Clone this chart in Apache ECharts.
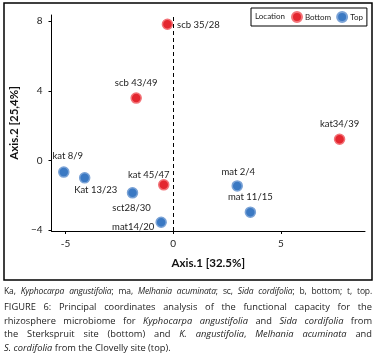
<!DOCTYPE html>
<html>
<head>
<meta charset="utf-8">
<script src="https://cdn.jsdelivr.net/npm/echarts@6/dist/echarts.min.js"></script>
<style>
html,body{margin:0;padding:0;background:#fff;}
#wrap{position:relative;width:382px;height:354px;overflow:hidden;}
#chart{position:absolute;left:0;top:0;width:382px;height:354px;}
.cap{position:absolute;left:4px;width:368px;font-family:"Open Sans",sans-serif;color:#222;}
#note{top:286px;font-size:8.5px;line-height:10px;white-space:nowrap;text-align:justify;text-align-last:justify;letter-spacing:-0.15px;}
#fig{top:300px;font-size:9.3px;line-height:13.6px;text-align:justify;}
#fig .l{display:block;text-align:justify;text-align-last:justify;}
#fig .last{display:block;}
</style>
</head>
<body>
<div id="wrap">
<div id="chart"></div>
<div class="cap" id="note">Ka, <i>Kyphocarpa angustifolia</i>; ma, <i>Melhania acuminata</i>; sc, <i>Sida cordifolia</i>; b, bottom; t, top.</div>
<div class="cap" id="fig"><span class="l">FIGURE 6: Principal coordinates analysis of the functional capacity for the</span><span class="l">rhizosphere microbiome for <i>Kyphocarpa angustifolia</i> and <i>Sida cordifolia</i> from</span><span class="l">the Sterkspruit site (bottom) and <i>K. angustifolia</i>, <i>Melhania acuminata</i> and</span><span class="last"><i>S. cordifolia</i> from the Clovelly site (top).</span></div>
</div>
<script>
// Data
const bottomNames = ["scb 35/28", "scb 43/49", "kat 45/47", "kat34/39"];
const bottomX = [-0.27, -1.72, -0.44, 7.72];
const bottomY = [7.82, 3.58, -1.40, 1.22];
const topNames = ["kat 8/9", "Kat 13/23", "sct28/30", "mat14/20", "mat 2/4", "mat 11/15"];
const topX = [-5.08, -4.11, -1.89, -0.56, 2.97, 3.58];
const topY = [-0.67, -1.00, -1.86, -3.55, -1.46, -2.97];
const xTicks = [-5, 0, 5];
const yTicks = [-4, 0, 4, 8];

// label layout offsets (px, relative to point centre)
const labelOffset = {
  "scb 35/28": [31, 1], "scb 43/49": [0, -15], "kat 45/47": [-15, -10], "kat34/39": [0, -15],
  "kat 8/9": [4, -16], "Kat 13/23": [11, 12], "sct28/30": [-1, 15], "mat14/20": [-28, 5],
  "mat 2/4": [1, -14], "mat 11/15": [0, -15]
};

function build(names, xs, ys) {
  return names.map((n, i) => ({
    name: n, value: [xs[i], ys[i]],
    label: { offset: labelOffset[n] }
  }));
}

const font = "Lato, 'Open Sans', sans-serif";
const chart = echarts.init(document.getElementById('chart'), null, { renderer: 'canvas' });

const labelCfg = {
  show: true, position: 'inside', formatter: p => p.name,
  color: '#222', fontSize: 9.5, fontFamily: font
};

chart.setOption({
  animation: false,
  grid: { left: 46.7, right: 17, top: 15, bottom: 123, containLabel: false },
  legend: {
    left: 251, top: 8, orient: 'horizontal',
    data: ['Bottom', 'Top'],
    borderColor: '#000', borderWidth: 1,
    padding: [3, 4, 3, 40],
    itemWidth: 10, itemHeight: 10, itemGap: 5,
    icon: 'circle',
    textStyle: { fontSize: 8, fontFamily: font, color: '#222', padding: [0, 0, 0, -2] }
  },
  graphic: [
    { type: 'rect', shape: { x: 4, y: 3, width: 368, height: 277 }, style: { fill: 'none', stroke: '#000', lineWidth: 1.5 }, silent: true },
    { type: 'text', left: 255, top: 12, style: { text: 'Location', fontSize: 8, fontFamily: font, fill: '#222' } }
  ],
  xAxis: {
    type: 'value', min: -5.65, max: 8.9,
    name: 'Axis.1 [32.5%]', nameLocation: 'middle', nameGap: 26,
    nameTextStyle: { fontSize: 11.5, fontWeight: 'bold', fontFamily: font, color: '#111' },
    splitLine: { show: false },
    axisLine: { show: true, onZero: false, lineStyle: { color: '#000', width: 1 } },
    axisTick: { show: true, length: 3, lineStyle: { color: '#000' }, customValues: xTicks },
    axisLabel: { customValues: xTicks, fontSize: 10, fontFamily: font, color: '#222', margin: 8 }
  },
  yAxis: {
    type: 'value', min: -4.05, max: 8.35,
    name: 'Axis.2 [25,4%]', nameLocation: 'middle', nameGap: 26,
    nameTextStyle: { fontSize: 11.5, fontWeight: 'bold', fontFamily: font, color: '#111' },
    splitLine: { show: false },
    axisLine: { show: true, onZero: false, lineStyle: { color: '#000', width: 1 } },
    axisTick: { show: true, length: 3, lineStyle: { color: '#000' }, customValues: yTicks },
    axisLabel: { customValues: yTicks, fontSize: 10, fontFamily: font, color: '#222', margin: 9,
      formatter: v => v < 0 ? '\u2212' + Math.abs(v) : String(v) }
  },
  series: [
    {
      name: 'Bottom', type: 'scatter', symbolSize: 10,
      itemStyle: { color: '#e4262f', borderColor: '#f27378', borderWidth: 1.5, opacity: 1 },
      label: labelCfg,
      data: build(bottomNames, bottomX, bottomY),
      markLine: {
        silent: true, symbol: 'none', label: { show: false },
        lineStyle: { color: '#000', type: [4, 3], width: 1 },
        data: [{ xAxis: 0 }]
      },
      z: 3
    },
    {
      name: 'Top', type: 'scatter', symbolSize: 10,
      itemStyle: { color: '#3b79c3', borderColor: '#7ba3d6', borderWidth: 1.5, opacity: 1 },
      label: labelCfg,
      data: build(topNames, topX, topY),
      z: 3
    }
  ]
});
</script>
</body>
</html>
